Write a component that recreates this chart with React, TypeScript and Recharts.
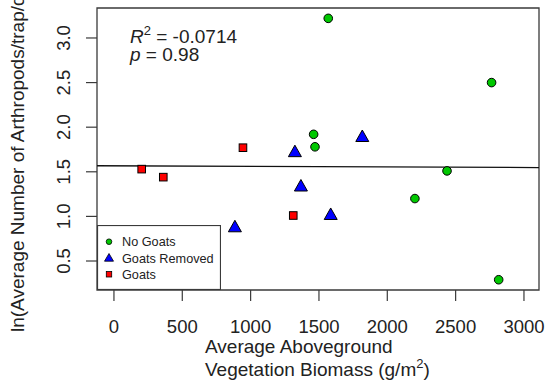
import React from 'react';
import {
  ScatterChart, Scatter, XAxis, YAxis, ReferenceArea, ReferenceLine, Legend, Customized,
} from 'recharts';

const noGoatsX = [1568, 2763, 1461, 1471, 2437, 2202, 2815];
const noGoatsY = [3.22, 2.50, 1.92, 1.78, 1.51, 1.20, 0.29];

const removedX = [1324, 1817, 1368, 1586, 885];
const removedY = [1.72, 1.89, 1.335, 1.016, 0.878];

const goatsX = [203, 361, 944, 1312];
const goatsY = [1.53, 1.44, 1.77, 1.01];

const xTicks = [0, 500, 1000, 1500, 2000, 2500, 3000];
const yTicks = [0.5, 1.0, 1.5, 2.0, 2.5, 3.0];
const xDomain = [-124, 3110];
const yDomain = [0.175, 3.336];

const fitIntercept = 1.567;
const fitSlope = -0.0000062;

const FONT = '"Liberation Sans", Arial, sans-serif';
const AXIS = '#3a3a3a';

const toPoints = (xs: number[], ys: number[]) => xs.map((x, i) => ({ x, y: ys[i] }));

const Circle = ({ cx, cy }: any) => (
  <circle cx={cx} cy={cy} r={4.3} fill="#00C800" stroke="#000" strokeWidth={1} />
);
const Triangle = ({ cx, cy }: any) => (
  <polygon points={`${cx},${cy - 7} ${cx - 6.5},${cy + 4.5} ${cx + 6.5},${cy + 4.5}`} fill="#0000FF" stroke="#000" strokeWidth={1} />
);
const Square = ({ cx, cy }: any) => (
  <rect x={cx - 3.8} y={cy - 3.8} width={7.6} height={7.6} fill="#FF0000" stroke="#000" strokeWidth={1} />
);

const XTick = ({ x, y, payload }: any) => (
  <text x={x} y={y + 29.5} textAnchor="middle" fontFamily={FONT} fontSize={18.5} fill="#222">
    {payload.value}
  </text>
);

const YTick = ({ x, y, payload }: any) => (
  <text x={x - 14} y={y} transform={`rotate(-90, ${x - 14}, ${y})`} textAnchor="middle" fontFamily={FONT} fontSize={18.5} fill="#222">
    {Number(payload.value).toFixed(1)}
  </text>
);

const legendItems = [
  { label: 'No Goats', shape: 'circle' },
  { label: 'Goats Removed', shape: 'triangle' },
  { label: 'Goats', shape: 'square' },
];

const LegendBox = () => (
  <svg width={124} height={65} style={{ display: 'block' }}>
    <rect x={0.5} y={0.5} width={123} height={64} fill="#fff" stroke={AXIS} strokeWidth={1.2} />
    {legendItems.map((it, i) => {
      const cy = 16.7 + i * 16.3;
      return (
        <g key={it.label}>
          {it.shape === 'circle' && <circle cx={12} cy={cy} r={2.8} fill="#00C800" stroke="#000" strokeWidth={0.8} />}
          {it.shape === 'triangle' && (
            <polygon points={`12,${cy - 4.5} ${12 - 4.5},${cy + 3.2} ${12 + 4.5},${cy + 3.2}`} fill="#0000FF" stroke="#000" strokeWidth={0.8} />
          )}
          {it.shape === 'square' && <rect x={9.3} y={cy - 2.7} width={5.4} height={5.4} fill="#FF0000" stroke="#000" strokeWidth={0.8} />}
          <text x={25} y={cy + 4.6} fontFamily={FONT} fontSize={12.7} fill="#222">{it.label}</text>
        </g>
      );
    })}
  </svg>
);

const Labels = () => (
  <g fontFamily={FONT} fill="#222">
    <text x={130} y={43} fontSize={19}>
      <tspan fontStyle="italic">R</tspan>
      <tspan dy={-8} fontSize={13}>2</tspan>
      <tspan dy={8}> = -0.0714</tspan>
    </text>
    <text x={130} y={61} fontSize={19}>
      <tspan fontStyle="italic">p</tspan>
      <tspan> = 0.98</tspan>
    </text>
    <text x={205} y={353} fontSize={19}>Average Aboveground</text>
    <text x={205} y={376} fontSize={19}>
      Vegetation Biomass (g/m
      <tspan dy={-8} fontSize={13}>2</tspan>
      <tspan dy={8}>)</tspan>
    </text>
    <text x={24} y={332} transform="rotate(-90, 24, 332)" fontSize={19}>
      ln(Average Number of Arthropods/trap/day)
    </text>
  </g>
);

export default function App() {
  return (
    <div style={{ position: 'absolute', left: 0, top: 0, width: 549, height: 386, background: '#fff' }}>
      <ScatterChart width={549} height={386} margin={{ top: 8, right: 10, left: 37, bottom: 36 }}>
        <XAxis
          type="number"
          dataKey="x"
          domain={xDomain}
          ticks={xTicks}
          allowDataOverflow
          axisLine={false}
          tickSize={11}
          tickLine={{ stroke: AXIS, strokeWidth: 1.2 }}
          tick={<XTick />}
          height={60}
          interval={0}
        />
        <YAxis
          type="number"
          dataKey="y"
          domain={yDomain}
          ticks={yTicks}
          allowDataOverflow
          axisLine={false}
          tickSize={11}
          tickLine={{ stroke: AXIS, strokeWidth: 1.2 }}
          tick={<YTick />}
          width={60}
          interval={0}
        />
        <ReferenceArea x1={xDomain[0]} x2={xDomain[1]} y1={yDomain[0]} y2={yDomain[1]} fill="none" stroke={AXIS} strokeWidth={1.3} strokeOpacity={1} fillOpacity={0} />
        <ReferenceLine
          segment={[
            { x: xDomain[0], y: fitIntercept + fitSlope * xDomain[0] },
            { x: xDomain[1], y: fitIntercept + fitSlope * xDomain[1] },
          ]}
          stroke="#111"
          strokeWidth={1.3}
        />
        <Scatter data={toPoints(noGoatsX, noGoatsY)} shape={<Circle />} isAnimationActive={false} />
        <Scatter data={toPoints(removedX, removedY)} shape={<Triangle />} isAnimationActive={false} />
        <Scatter data={toPoints(goatsX, goatsY)} shape={<Square />} isAnimationActive={false} />
        <Legend
          layout="vertical"
          align="center"
          verticalAlign="middle"
          content={<LegendBox />}
          wrapperStyle={{ left: 97, top: 225, width: 124, height: 65 }}
        />
        <Customized component={<Labels />} />
      </ScatterChart>
    </div>
  );
}
